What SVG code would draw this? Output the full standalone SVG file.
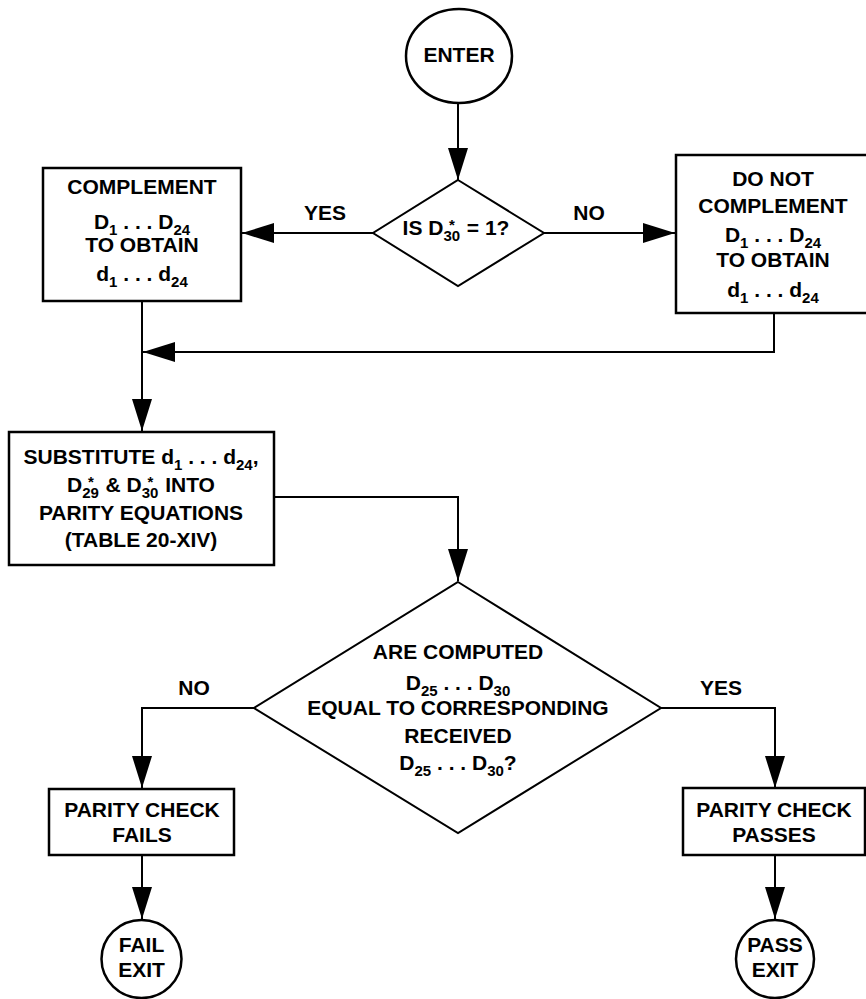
<svg xmlns="http://www.w3.org/2000/svg" width="866" height="999" viewBox="0 0 866 999">
<style>
.shape{fill:#fff;stroke:#000;stroke-width:2.5}
.dia{fill:#fff;stroke:#000;stroke-width:2}
.conn{fill:none;stroke:#000;stroke-width:2}
text{font-family:"Liberation Sans",Arial,Helvetica,sans-serif;font-weight:bold;font-size:21px;fill:#000;text-anchor:middle}
.sub{font-size:15px}
</style>
<defs>
<marker id="arr" markerUnits="userSpaceOnUse" viewBox="0 0 32 20" refX="32" refY="10" markerWidth="32" markerHeight="20" orient="auto">
<path d="M0,0 L32,10 L0,20 Z" fill="#000"/>
</marker>
</defs>
<rect width="866" height="999" fill="#fff"/>
<g id="connectors">
<line class="conn" x1="458" y1="103" x2="458" y2="180" marker-end="url(#arr)"/>
<line class="conn" x1="373" y1="233" x2="242" y2="233" marker-end="url(#arr)"/>
<line class="conn" x1="544" y1="233" x2="675" y2="233" marker-end="url(#arr)"/>
<line class="conn" x1="142" y1="301" x2="142" y2="431" marker-end="url(#arr)"/>
<polyline class="conn" points="774,313 774,352 143,352" marker-end="url(#arr)"/>
<polyline class="conn" points="274,497 458,497 458,581" marker-end="url(#arr)"/>
<polyline class="conn" points="254,708 142,708 142,788" marker-end="url(#arr)"/>
<polyline class="conn" points="661,708 775,708 775,788" marker-end="url(#arr)"/>
<line class="conn" x1="142" y1="855" x2="142" y2="919" marker-end="url(#arr)"/>
<line class="conn" x1="775" y1="855" x2="775" y2="919" marker-end="url(#arr)"/>
<text x="325" y="220">YES</text>
<text x="589" y="220">NO</text>
<text x="194" y="695">NO</text>
<text x="721" y="695">YES</text>
</g>
<g id="enter">
<ellipse class="shape" cx="459" cy="56" rx="53" ry="47"/>
<text x="459" y="62">ENTER</text>
</g>
<g id="decision1">
<polygon class="dia" points="458,180 544,233 458,286 373,233"/>
<text x="456" y="235">IS D<tspan class="sub" dy="6">30</tspan><tspan class="sub" dx="-11" dy="-11">*</tspan><tspan dx="6" dy="5">  =  1?</tspan></text>
</g>
<g id="complement">
<rect class="shape" x="43" y="168" width="198" height="133"/>
<text x="142" y="194">COMPLEMENT</text>
<text x="142" y="229">D<tspan class="sub" dy="6">1</tspan><tspan dy="-6"> . . . D</tspan><tspan class="sub" dy="6">24</tspan></text>
<text x="142" y="252">TO OBTAIN</text>
<text x="142" y="281">d<tspan class="sub" dy="6">1</tspan><tspan dy="-6"> . . . d</tspan><tspan class="sub" dy="6">24</tspan></text>
</g>
<g id="nocomplement">
<rect class="shape" x="676" y="155" width="193" height="158"/>
<text x="773" y="186">DO NOT</text>
<text x="773" y="213">COMPLEMENT</text>
<text x="773" y="242">D<tspan class="sub" dy="6">1</tspan><tspan dy="-6"> . . . D</tspan><tspan class="sub" dy="6">24</tspan></text>
<text x="773" y="267">TO OBTAIN</text>
<text x="773" y="297">d<tspan class="sub" dy="6">1</tspan><tspan dy="-6"> . . . d</tspan><tspan class="sub" dy="6">24</tspan></text>
</g>
<g id="substitute">
<rect class="shape" x="9" y="432" width="265" height="133"/>
<text x="141" y="464">SUBSTITUTE d<tspan class="sub" dy="6">1</tspan><tspan dy="-6"> . . . d</tspan><tspan class="sub" dy="6">24</tspan><tspan dy="-6">,</tspan></text>
<text x="141" y="492">D<tspan class="sub" dy="6">29</tspan><tspan class="sub" dx="-11" dy="-11">*</tspan><tspan dx="6" dy="5"> &amp; D</tspan><tspan class="sub" dy="6">30</tspan><tspan class="sub" dx="-11" dy="-11">*</tspan><tspan dx="6" dy="5"> INTO</tspan></text>
<text x="141" y="520">PARITY EQUATIONS</text>
<text x="141" y="547">(TABLE 20-XIV)</text>
</g>
<g id="decision2">
<polygon class="dia" points="458,582 661,708 458,833 254,708"/>
<text x="458" y="659">ARE COMPUTED</text>
<text x="458" y="690">D<tspan class="sub" dy="6">25</tspan><tspan dy="-6"> . . . D</tspan><tspan class="sub" dy="6">30</tspan></text>
<text x="458" y="715">EQUAL TO CORRESPONDING</text>
<text x="458" y="743">RECEIVED</text>
<text x="458" y="770">D<tspan class="sub" dy="6">25</tspan><tspan dy="-6"> . . . D</tspan><tspan class="sub" dy="6">30</tspan><tspan dy="-6">?</tspan></text>
</g>
<g id="fails">
<rect class="shape" x="49" y="789" width="185" height="66"/>
<text x="142" y="817">PARITY CHECK</text>
<text x="142" y="842">FAILS</text>
</g>
<g id="passes">
<rect class="shape" x="683" y="788" width="182" height="67"/>
<text x="774" y="817">PARITY CHECK</text>
<text x="774" y="842">PASSES</text>
</g>
<g id="failexit">
<ellipse class="shape" cx="141.5" cy="959" rx="40" ry="39"/>
<text x="141.5" y="952">FAIL</text>
<text x="141.5" y="977">EXIT</text>
</g>
<g id="passexit">
<ellipse class="shape" cx="775" cy="959" rx="39" ry="39"/>
<text x="775" y="952">PASS</text>
<text x="775" y="977">EXIT</text>
</g>
</svg>
